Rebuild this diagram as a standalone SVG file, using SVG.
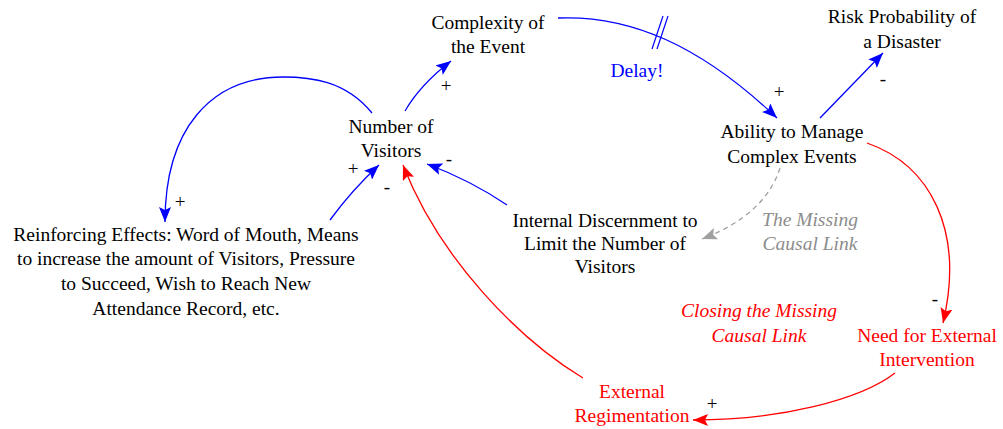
<svg xmlns="http://www.w3.org/2000/svg" width="1003" height="429" viewBox="0 0 1003 429">
<style>
text{font-family:"Liberation Serif","DejaVu Serif",serif;font-size:19.5px;text-anchor:middle;fill:#000}
.r{fill:#FF0000}
.b{fill:#0000FF}
.g{fill:#8C8C8C;font-style:italic}
.ri{fill:#FF0000;font-style:italic}
.s{font-size:19px}
.cb{fill:none;stroke:#0000FF;stroke-width:1.3;marker-end:url(#ab)}
.cr{fill:none;stroke:#FF0000;stroke-width:1.3;marker-end:url(#ar)}
.cg{fill:none;stroke:#A0A0A0;stroke-width:1.3;stroke-dasharray:5,4;marker-end:url(#ag)}
</style>
<defs>
<marker id="ab" markerUnits="userSpaceOnUse" markerWidth="16" markerHeight="12" refX="15" refY="6" orient="auto"><path d="M0,0 L15,6 L0,12 L3,6 z" fill="#0000FF"/></marker>
<marker id="ar" markerUnits="userSpaceOnUse" markerWidth="16" markerHeight="12" refX="15" refY="6" orient="auto"><path d="M0,0 L15,6 L0,12 L3,6 z" fill="#FF0000"/></marker>
<marker id="ag" markerUnits="userSpaceOnUse" markerWidth="16" markerHeight="12" refX="15" refY="6" orient="auto"><path d="M0,0 L15,6 L0,12 L3,6 z" fill="#A0A0A0"/></marker>
</defs>
<rect width="1003" height="429" fill="#fff"/>
<g id="connectors">
<path class="cb" d="M405,111 Q420,85 451,61"/>
<path class="cb" d="M558,18 C630,15 700,45 777,118"/>
<path d="M652,49 L663,16 M657,49 L668,16" stroke="#0000FF" stroke-width="1.2" fill="none"/>
<path class="cb" d="M820,118 Q855,82 883,53"/>
<path class="cb" d="M372,113 C345,80 310,77 283,77 C210,77 165,130 165,222"/>
<path class="cb" d="M330,220 Q352,190 379,165"/>
<path class="cb" d="M507,205 Q470,180 427,164"/>
<path class="cr" d="M583,378 C520,340 440,260 403,165"/>
<path class="cr" d="M867,143 C930,165 965,230 943,323"/>
<path class="cr" d="M895,373 C860,400 780,420 693,420"/>
<path class="cg" d="M780,168 Q765,215 702,239"/>
</g>
<g id="polarities">
<text class="s" x="446" y="92">+</text>
<text class="s" x="779" y="98">+</text>
<text class="s" x="883" y="85">-</text>
<text class="s" x="180" y="208">+</text>
<text class="s" x="353" y="175">+</text>
<text class="s" x="387" y="193">-</text>
<text class="s" x="449" y="165">-</text>
<text class="s" x="935" y="305">-</text>
<text class="s" x="712" y="410">+</text>
</g>
<g id="n-complexity"><text x="488" y="29">Complexity of</text><text x="488" y="53">the Event</text></g>
<g id="n-risk"><text x="902" y="23">Risk Probability of</text><text x="902" y="48">a Disaster</text></g>
<g id="l-delay"><text class="b" x="637" y="77">Delay!</text></g>
<g id="n-visitors"><text x="391" y="133">Number of</text><text x="391" y="157">Visitors</text></g>
<g id="n-ability"><text x="792" y="138">Ability to Manage</text><text x="792" y="163">Complex Events</text></g>
<g id="n-reinforcing"><text x="186" y="241">Reinforcing Effects: Word of Mouth, Means</text><text x="186" y="265">to increase the amount of Visitors, Pressure</text><text x="186" y="290">to Succeed, Wish to Reach New</text><text x="186" y="315">Attendance Record, etc.</text></g>
<g id="n-internal"><text x="605" y="227">Internal Discernment to</text><text x="605" y="250">Limit the Number of</text><text x="605" y="273">Visitors</text></g>
<g id="l-missing"><text class="g" x="810" y="226">The Missing</text><text class="g" x="810" y="250">Causal Link</text></g>
<g id="l-closing"><text class="ri" x="759" y="317">Closing the Missing</text><text class="ri" x="759" y="342">Causal Link</text></g>
<g id="n-need"><text class="r" x="927" y="342">Need for External</text><text class="r" x="927" y="366">Intervention</text></g>
<g id="n-external"><text class="r" x="632" y="398">External</text><text class="r" x="632" y="422">Regimentation</text></g>
</svg>
